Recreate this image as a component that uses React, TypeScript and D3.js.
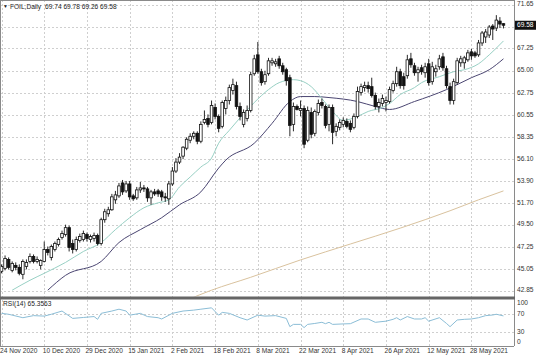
import React from "react";
import * as d3 from "d3";

// ---------- data ----------
const symbolTitle = "FOIL,Daily";
const headerOHLC = [69.74, 69.78, 69.26, 69.58];
const lastPrice = 69.58;
const rsiTitle = "RSI(14) 65.3563";

const dateLabels = [
  "24 Nov 2020", "10 Dec 2020", "29 Dec 2020", "15 Jan 2021", "2 Feb 2021", "18 Feb 2021",
  "8 Mar 2021", "22 Mar 2021", "8 Apr 2021", "26 Apr 2021", "12 May 2021", "28 May 2021",
];
const labelEvery = 12;
const priceTicks = [42.85, 45.05, 47.25, 49.5, 51.7, 53.9, 56.1, 58.35, 60.55, 62.75, 65.0, 67.25, 69.45, 71.65];
const rsiTicks = [100, 70, 30, 0];
const rsiLevels = [70, 30];

const opens = [
  44.8, 45.1, 46.0, 44.9, 45.4, 45.2, 44.5, 45.3, 45.8, 46.3, 45.8, 45.4, 45.8, 47.0, 46.2, 47.0, 47.5, 48.2, 48.5, 49.2,
  47.6, 47.0, 47.9, 48.0, 48.5, 48.0, 48.1, 48.4, 47.6, 50.0, 50.6, 51.0, 52.0, 52.4, 53.7, 52.9, 53.6, 52.4, 52.2, 53.0,
  53.2, 53.1, 52.2, 52.8, 52.9, 52.8, 52.3, 52.1, 53.6, 54.9, 55.8, 56.4, 57.2, 58.0, 58.4, 58.7, 57.9, 59.8, 60.2, 59.8,
  61.3, 60.4, 59.4, 61.2, 62.0, 63.0, 63.5, 61.4, 59.6, 60.2, 61.0, 64.7, 66.6, 64.9, 63.9, 64.7, 65.8, 65.7, 66.2, 65.5,
  65.1, 64.3, 59.6, 61.4, 61.0, 61.2, 58.0, 60.8, 58.7, 60.8, 61.8, 61.4, 59.6, 61.3, 58.9, 59.3, 59.6, 59.9, 59.7, 59.3,
  60.4, 62.8, 63.3, 63.5, 63.4, 62.5, 61.4, 61.7, 61.8, 61.9, 63.0, 63.7, 64.9, 64.4, 64.5, 66.2, 65.5, 64.8, 65.3, 64.8,
  65.7, 63.9, 64.9, 65.4, 66.4, 65.2, 63.4, 62.0, 63.8, 65.8, 65.8, 66.1, 66.9, 66.8, 66.6, 67.8, 68.4, 68.6, 69.5, 69.3,
  70.0, 69.74,
];
const highs = [
  45.5, 46.4, 46.2, 45.8, 45.7, 45.5, 46.0, 46.0, 46.6, 46.5, 46.3, 46.0, 47.8, 47.3, 47.5, 47.8, 48.2, 48.9, 49.5, 49.4,
  48.0, 48.3, 48.6, 48.9, 48.7, 48.5, 48.7, 48.6, 50.2, 51.1, 51.3, 52.6, 52.9, 53.7, 54.0, 53.9, 53.9, 52.6, 53.3, 53.8,
  53.5, 53.3, 53.0, 53.1, 53.1, 53.0, 52.7, 53.9, 55.3, 56.2, 56.7, 57.4, 58.3, 58.7, 58.9, 58.9, 59.9, 61.0, 60.6, 62.0,
  61.7, 60.6, 62.0, 62.4, 63.6, 64.2, 63.9, 61.8, 61.1, 61.5, 64.9, 66.6, 67.9, 65.2, 65.0, 66.3, 66.3, 66.2, 66.5, 65.8,
  65.3, 64.6, 61.8, 61.6, 62.0, 61.5, 61.4, 61.3, 61.1, 62.1, 62.2, 61.6, 61.6, 61.6, 59.7, 60.1, 60.3, 60.2, 60.0, 60.7,
  63.4, 63.7, 63.9, 63.9, 64.3, 62.8, 62.2, 62.6, 62.4, 63.4, 64.0, 65.4, 65.2, 64.8, 66.6, 66.8, 65.8, 65.4, 65.6, 65.8,
  66.2, 65.9, 65.6, 66.6, 66.8, 65.5, 63.8, 64.2, 66.3, 66.5, 66.5, 67.1, 67.2, 67.0, 68.1, 69.0, 69.2, 69.6, 69.7, 70.6,
  70.4, 69.78,
];
const lows = [
  44.6, 44.9, 45.0, 44.7, 44.9, 44.4, 44.0, 45.0, 45.6, 45.6, 45.6, 45.0, 45.7, 46.4, 45.9, 46.8, 47.3, 48.0, 48.3, 46.8,
  46.6, 46.8, 47.7, 47.8, 47.8, 47.7, 47.8, 47.4, 47.4, 49.7, 50.3, 50.9, 51.6, 52.2, 52.5, 52.7, 52.0, 51.9, 52.0, 52.7,
  52.8, 51.8, 51.5, 52.4, 52.3, 51.9, 51.8, 51.5, 53.4, 54.7, 55.6, 56.1, 57.0, 57.7, 58.1, 57.6, 57.7, 59.6, 59.3, 59.6,
  60.1, 58.8, 59.2, 60.6, 61.6, 62.6, 61.1, 60.0, 59.3, 59.9, 60.8, 64.5, 64.7, 63.5, 63.6, 64.5, 65.5, 65.4, 65.2, 64.6,
  63.5, 58.4, 58.9, 61.0, 60.4, 57.2, 57.8, 58.2, 58.4, 60.5, 61.2, 59.2, 58.9, 57.6, 58.4, 59.0, 59.3, 59.2, 58.8, 59.1,
  60.2, 62.5, 62.9, 62.8, 62.3, 61.1, 60.8, 61.4, 60.9, 61.7, 62.8, 63.4, 63.2, 63.1, 64.2, 65.3, 64.5, 63.9, 64.6, 64.3,
  63.5, 63.6, 64.4, 65.1, 65.0, 63.2, 61.6, 61.6, 63.6, 65.4, 65.2, 65.9, 66.1, 66.3, 66.4, 67.5, 67.8, 68.3, 68.1, 69.0,
  69.3, 69.26,
];
const closes = [
  45.3, 46.1, 45.2, 45.6, 45.2, 44.6, 45.8, 45.7, 46.3, 45.8, 46.0, 45.9, 47.0, 46.7, 47.3, 47.6, 48.0, 48.6, 49.2, 47.2,
  47.0, 48.0, 48.3, 48.6, 48.1, 48.3, 48.4, 47.6, 50.0, 50.8, 51.0, 52.3, 52.5, 53.4, 52.8, 53.6, 52.3, 52.1, 53.0, 53.2,
  53.1, 52.2, 52.8, 52.6, 52.6, 52.3, 52.2, 53.6, 54.9, 55.8, 56.3, 57.3, 58.1, 58.4, 58.7, 57.9, 59.6, 60.1, 59.6, 61.5,
  60.4, 59.2, 61.8, 62.0, 63.3, 63.6, 61.4, 60.4, 60.8, 61.0, 64.6, 66.2, 64.9, 63.8, 64.6, 66.0, 66.0, 65.9, 65.5, 64.9,
  64.0, 59.5, 61.4, 61.1, 61.2, 57.6, 61.0, 58.6, 60.9, 61.7, 61.5, 59.5, 61.3, 58.8, 59.4, 59.8, 60.0, 59.4, 59.1, 60.4,
  62.9, 63.4, 63.5, 63.2, 62.5, 61.4, 61.8, 62.2, 62.0, 63.1, 63.7, 64.9, 63.5, 63.5, 66.1, 65.6, 64.8, 65.1, 64.9, 65.4,
  63.8, 65.4, 65.2, 66.2, 65.3, 63.5, 62.0, 63.9, 66.0, 66.2, 66.3, 66.8, 66.5, 66.5, 67.8, 68.8, 68.9, 69.4, 69.2, 70.1,
  69.7, 69.58,
];

// moving averages: [bar index, price]
const maFast: [number, number][] = [
  [3, 42.9], [8, 43.9], [12, 44.6], [18, 45.7], [23, 46.8], [28, 47.7], [32, 49.0], [36, 50.2], [40, 51.2], [44, 51.7],
  [47, 52.0], [50, 53.3], [53, 54.3], [56, 55.3], [59, 56.2], [61, 57.7], [64, 59.0], [71, 61.8], [75, 63.1], [78, 63.8],
  [82, 64.1], [84, 64.0], [87, 63.4], [90, 62.2], [93, 60.9], [96, 60.0], [100, 60.4], [103, 60.9], [107, 61.3], [109, 61.7],
  [112, 62.6], [116, 63.3], [118, 63.8], [123, 64.4], [127, 64.9], [130, 65.1], [134, 65.7], [137, 66.6], [141, 68.0],
];
const maSlow: [number, number][] = [
  [13, 42.9], [18, 44.4], [28, 45.8], [33, 47.7], [39, 49.0], [45, 50.2], [50, 51.5], [56, 52.8], [61, 55.2], [63, 56.0],
  [71, 57.7], [76, 59.7], [81, 61.9], [84, 62.4], [88, 62.4], [92, 62.3], [100, 61.9], [105, 61.4], [109, 61.1], [116, 61.9],
  [125, 63.1], [132, 64.3], [137, 65.1], [141, 66.2],
];
const maLong: [number, number][] = [
  [52, 41.9], [59, 42.9], [70, 44.2], [84, 45.95], [98, 47.55], [112, 49.15], [126, 50.9], [134, 52.0], [141, 52.9],
];
const rsiPoints: [number, number][] = [
  [0, 71], [2, 69], [6, 61.5], [9, 66], [12, 65], [14, 69], [17, 76], [20, 60], [23, 62], [26, 64], [27, 58], [28, 71],
  [31, 76], [33, 80], [35, 76], [36, 67], [39, 71], [41, 64], [44, 61.5], [45, 58.7], [48, 71], [51, 76], [54, 78],
  [56, 80], [59, 83], [61, 67], [62, 73], [64, 71], [67, 61.5], [69, 56.5], [72, 67], [74, 65], [77, 66], [80, 60],
  [81, 42], [82, 47], [84, 47], [85, 40], [86, 47], [88, 49], [90, 51.5], [91, 48.5], [92, 51.5], [93, 47], [96, 48],
  [98, 48.5], [101, 58.7], [103, 58.7], [105, 51.5], [108, 54], [110, 58], [111, 61.5], [112, 56.5], [114, 64],
  [116, 58.7], [118, 58.7], [119, 61.5], [120, 54], [123, 61.5], [125, 49], [126, 42], [128, 56.5], [130, 58],
  [132, 58.7], [134, 61.5], [136, 66], [138, 67.4], [139, 69], [141, 65.4],
];

// ---------- layout ----------
const W = 536;
const H = 357;
const plotRight = 514;
const mainBottom = 296.5;
const rsiTop = 299.5;
const rsiBottom = 345.5;
const font = "'Liberation Sans', Arial, sans-serif";
const fs = 6.6;
const gridColor = "#cfcfcf";

export default function App() {
  const n = closes.length;
  const x = d3.scaleLinear().domain([0, n - 1]).range([1.5, 1.5 + 3.56 * (n - 1)]);
  const y = d3.scaleLinear().domain([42.85, 71.65]).range([290.7, 4.7]);
  const ry = d3.scaleLinear().domain([0, 100]).range([346, 300]);

  const maLine = d3
    .line<[number, number]>()
    .x((d) => x(d[0]))
    .y((d) => y(d[1]))
    .curve(d3.curveMonotoneX);
  const rsiLine = d3
    .line<[number, number]>()
    .x((d) => x(d[0]))
    .y((d) => ry(d[1]))
    .curve(d3.curveLinear);

  const labelIdx = dateLabels.map((_, j) => j * labelEvery);

  return (
    <svg
      width={W}
      height={H}
      viewBox={`0 0 ${W} ${H}`}
      style={{ position: "absolute", left: 0, top: 0, background: "#fff" }}
    >
      <defs>
        <clipPath id="mainClip">
          <rect x={0} y={0} width={plotRight} height={mainBottom} />
        </clipPath>
        <clipPath id="rsiClip">
          <rect x={0} y={rsiTop} width={plotRight} height={rsiBottom - rsiTop} />
        </clipPath>
      </defs>
      <rect x={0} y={0} width={W} height={H} fill="#fff" />

      {/* grid main */}
      <g stroke={gridColor} strokeWidth={1} strokeDasharray="2,2" shapeRendering="crispEdges">
        {priceTicks.map((t) => (
          <line key={"h" + t} x1={0} x2={plotRight} y1={Math.round(y(t)) + 0.5} y2={Math.round(y(t)) + 0.5} />
        ))}
        {labelIdx.map((k) => (
          <line key={"v" + k} x1={Math.round(x(k)) + 0.5} x2={Math.round(x(k)) + 0.5} y1={0} y2={mainBottom} />
        ))}
        {labelIdx.map((k) => (
          <line key={"rv" + k} x1={Math.round(x(k)) + 0.5} x2={Math.round(x(k)) + 0.5} y1={rsiTop} y2={rsiBottom} />
        ))}
        {rsiLevels.map((lv) => (
          <line key={"rl" + lv} x1={0} x2={plotRight} y1={Math.round(ry(lv)) + 0.5} y2={Math.round(ry(lv)) + 0.5} />
        ))}
      </g>

      {/* main chart */}
      <g clipPath="url(#mainClip)">
        <path d={maLine(maLong) || ""} fill="none" stroke="#d9c29e" strokeWidth={1} />
        <path d={maLine(maSlow) || ""} fill="none" stroke="#4b4672" strokeWidth={1} />
        <path d={maLine(maFast) || ""} fill="none" stroke="#98d0c4" strokeWidth={1} />
        {closes.map((c, i) => {
          const o = opens[i];
          const cx = x(i);
          const top = y(Math.max(o, c));
          const bot = y(Math.min(o, c));
          const bull = c >= o;
          return (
            <g key={i}>
              <line x1={cx} x2={cx} y1={y(highs[i])} y2={y(lows[i])} stroke="#111" strokeWidth={0.9} />
              <rect
                x={cx - 1.3}
                y={top}
                width={2.6}
                height={Math.max(bot - top, 0.8)}
                fill={bull ? "#fff" : "#111"}
                stroke="#111"
                strokeWidth={0.8}
              />
            </g>
          );
        })}
      </g>

      {/* RSI */}
      <g clipPath="url(#rsiClip)">
        <path d={rsiLine(rsiPoints) || ""} fill="none" stroke="#8bbdd6" strokeWidth={1} />
      </g>

      {/* frames */}
      <g fill="none" stroke="#8a8a8a" strokeWidth={1} shapeRendering="crispEdges">
        <line x1={0} x2={plotRight} y1={0.5} y2={0.5} />
        <line x1={0.5} x2={0.5} y1={0} y2={rsiBottom} />
        <line x1={plotRight + 0.5} x2={plotRight + 0.5} y1={0} y2={rsiBottom} />
        <line x1={0} x2={plotRight} y1={rsiBottom + 0.5} y2={rsiBottom + 0.5} />
      </g>
      <rect x={0} y={mainBottom} width={plotRight + 1} height={3} fill="#666" />

      {/* price axis */}
      <g fontFamily={font} fontSize={fs} fill="#333">
        {priceTicks.map((t) => (
          <text key={"pt" + t} x={plotRight + 3} y={y(t)} dominantBaseline="middle">
            {t.toFixed(2)}
          </text>
        ))}
      </g>
      <rect x={plotRight + 1} y={y(lastPrice) - 4.5} width={21} height={9} fill="#111" />
      <text
        x={plotRight + 3}
        y={y(lastPrice)}
        dominantBaseline="middle"
        fontFamily={font}
        fontSize={fs}
        fill="#fff"
      >
        {lastPrice.toFixed(2)}
      </text>

      {/* rsi axis */}
      <g fontFamily={font} fontSize={fs} fill="#333">
        {rsiTicks.map((t) => {
          let yy = ry(t);
          if (t === 100) yy += 3.5;
          if (t === 0) yy -= 3.5;
          return (
            <text key={"rt" + t} x={plotRight + 3} y={yy} dominantBaseline="middle">
              {t}
            </text>
          );
        })}
      </g>

      {/* date axis */}
      <g fontFamily={font} fontSize={fs} fill="#333">
        {labelIdx.map((k, j) => (
          <text key={"d" + k} x={x(k) - 1.5} y={351.5} dominantBaseline="middle">
            {dateLabels[j]}
          </text>
        ))}
      </g>

      {/* titles */}
      <text x={3} y={6.5} dominantBaseline="middle" fontFamily={font} fontSize={fs} fill="#222">
        <tspan fontSize={5}>▼</tspan>
        <tspan dx={2}>{symbolTitle}</tspan>
        <tspan dx={4}>{headerOHLC.map((v) => v.toFixed(2)).join(" ")}</tspan>
      </text>
      <text x={3} y={rsiTop + 4.5} dominantBaseline="middle" fontFamily={font} fontSize={fs} fill="#222">
        {rsiTitle}
      </text>
    </svg>
  );
}
